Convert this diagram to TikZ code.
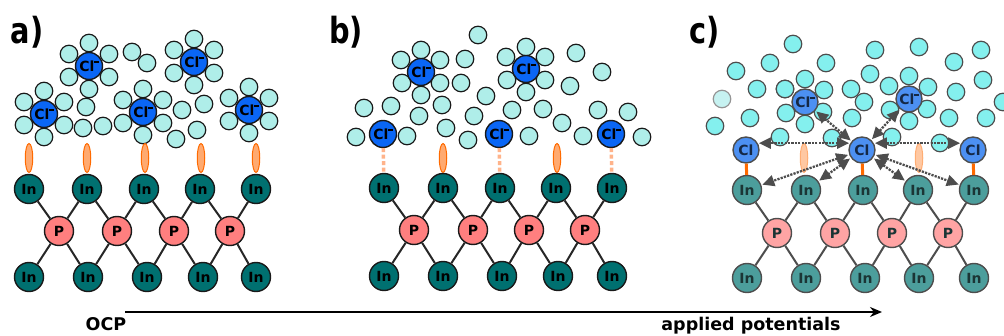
\documentclass[tikz,border=0pt]{standalone}
\usepackage{fontspec}
\setmainfont{DejaVu Sans}
\usetikzlibrary{shapes.geometric,arrows.meta}

\definecolor{inteal}{HTML}{007070}
\definecolor{psalmon}{HTML}{FF7F7F}
\definecolor{clblue}{HTML}{0A66F5}
\definecolor{wcyan}{HTML}{AFEEE9}
\definecolor{lpline}{HTML}{FF6A00}
\definecolor{lpfill}{HTML}{FFAA70}
\definecolor{hbondcol}{HTML}{FFB38A}
\definecolor{inpale}{HTML}{4C9E9C}
\definecolor{ppale}{HTML}{FFA4A4}
\definecolor{clpale}{HTML}{4C90F2}
\definecolor{wbright}{HTML}{84F0EE}
\definecolor{wfaint}{HTML}{C6F2F1}
\definecolor{greyline}{HTML}{4D4D4D}
\definecolor{txtpale}{HTML}{1B3535}
\definecolor{cltxtpale}{HTML}{142845}

\newcommand{\atomfont}{\bfseries\fontsize{14}{14}\selectfont}
\newcommand{\clminus}{Cl\rule[0.57em]{0.3em}{0.14em}}
\newcommand{\panelfont}{\bfseries\fontsize{36}{36}\selectfont}

\begin{document}
\begin{tikzpicture}[x=1pt,y=-1pt,
  atom/.style={circle, draw=black!90, line width=1.4pt, inner sep=0pt,
    minimum size=29pt, font=\atomfont},
  inatom/.style={atom, fill=inteal},
  patom/.style={atom, fill=psalmon},
  clion/.style={atom, minimum size=27pt, fill=clblue},
  water/.style={circle, draw=black!90, line width=1.2pt, fill=wcyan,
    minimum size=17.5pt, inner sep=0pt},
  inpaleatom/.style={atom, draw=greyline, fill=inpale, text=txtpale},
  ppaleatom/.style={atom, draw=greyline, fill=ppale, text=txtpale},
  clpaleatom/.style={atom, draw=greyline, minimum size=26pt, fill=clpale, text=cltxtpale},
  wpale/.style={water, draw=greyline, fill=wbright},
  bond/.style={line width=2pt, black!85},
  palebond/.style={line width=2pt, greyline},
  lone/.style={ellipse, draw=lpline, fill=lpfill, line width=1pt,
    minimum width=7.5pt, minimum height=29pt, inner sep=0pt},
  palelone/.style={lone, draw=lpline!55, fill=lpfill!65},
  hbond/.style={line width=3.5pt, hbondcol, dash pattern=on 4pt off 2.5pt},
  clbond/.style={line width=3pt, lpline},
  interact/.style={{Triangle[length=12pt,width=11pt]}-{Triangle[length=12pt,width=11pt]},
    line width=2.3pt, greyline, dash pattern=on 2.2pt off 1.2pt,
    shorten <=1pt, shorten >=1pt},
  panellabel/.style={font=\panelfont, inner sep=0pt},
  axislabel/.style={font=\bfseries\fontsize{17.5}{17.5}\selectfont, inner sep=0pt, anchor=base}
]
\useasboundingbox (0,0) rectangle (1004,336);

% ---------------- panel a: open circuit ----------------
\node[panellabel] (la) at (27,32) {\scalebox{0.8}[1]{a)}};
\foreach \x/\y [count=\i] in {132/52,147/63,86/107,83/128,103/126,182/110,204/104,197/130,176/139}
  \node[water] (wa\i) at (\x,\y) {};
\foreach \x/\y [count=\i] in {89/66,194/62,44/114,143/112,249/110} {
  \foreach \dx/\dy [count=\j] in {0/-23,-20/-12,20/-12,-20/11,20/11,0/23}
    \node[water] (ha\i-\j) at (\x+\dx,\y+\dy) {};
  \node[clion] (cla\i) at (\x,\y) {\clminus};
}
\foreach \x [count=\i] in {29,87,145,201,256}
  \node[lone] (lpa\i) at (\x,158) {};
\foreach \x [count=\i] in {29,87,144,200,256}
  \node[inatom] (ta\i) at (\x,189) {In};
\foreach \x [count=\i] in {59,117,174,230}
  \node[patom] (pa\i) at (\x,231) {P};
\foreach \x [count=\i] in {29,88,147,203,256}
  \node[inatom] (ba\i) at (\x,277) {In};
\foreach \i [evaluate=\i as \j using int(\i+1)] in {1,...,4}
  \draw[bond] (ta\i) -- (pa\i) (pa\i) -- (ta\j) (pa\i) -- (ba\i) (pa\i) -- (ba\j);

% ---------------- panel b: chloride approaching the surface ----------------
\node[panellabel] (lb) at (346,32) {\scalebox{0.8}[1]{b)}};
\foreach \x/\y [count=\i] in {478/35,465/59,461/83,364/108,391/106,419/116,442/105,446/128,
    356/137,407/136,486/96,474/116,468/140,512/110,543/109,529/136,576/53,570/86,602/72,
    562/123,598/110,628/112,583/136,642/137}
  \node[water] (wb\i) at (\x,\y) {};
\foreach \x/\y [count=\i] in {421/72,526/69} {
  \foreach \dx/\dy [count=\j] in {0/-22,-20/-12,19/-12,-19/11,19/11,0/23}
    \node[water] (hb\i-\j) at (\x+\dx,\y+\dy) {};
  \node[clion] (clb\i) at (\x,\y) {\clminus};
}
\foreach \x [count=\i] in {383,499,611}
  \node[clion] (csb\i) at (\x,134) {\clminus};
\foreach \x [count=\i] in {443,557}
  \node[lone] (lpb\i) at (\x,158) {};
\foreach \x [count=\i] in {384,443,500,556,612}
  \node[inatom] (tb\i) at (\x,188) {In};
\foreach \x [count=\i] in {414,473,529,585}
  \node[patom] (pb\i) at (\x,230) {P};
\foreach \x [count=\i] in {384,443,502,558,612}
  \node[inatom] (bb\i) at (\x,276) {In};
\foreach \i [evaluate=\i as \j using int(\i+1)] in {1,...,4}
  \draw[bond] (tb\i) -- (pb\i) (pb\i) -- (tb\j) (pb\i) -- (bb\i) (pb\i) -- (bb\j);
\draw[hbond] (csb1) -- (tb1);
\draw[hbond] (csb2) -- (tb3);
\draw[hbond] (csb3) -- (tb5);

% ---------------- panel c: adsorbed chlorine ----------------
\node[panellabel] (lc) at (705,32) {\scalebox{0.8}[1]{c)}};
\foreach \x/\y [count=\i] in {793/44,875/50,919/47,981/50,736/71,770/63,826/63,954/62,
    870/74,983/80,757/89,785/89,851/89,956/92,864/102,852/118,949/118,986/118,1003/102,
    715/126,750/118,780/137,832/138,892/137,940/143}
  \node[wpale] (wc\i) at (\x,\y) {};
\node[water, draw=greyline!60, fill=wfaint] (wcf) at (722,99) {};
\foreach \x/\y [count=\i] in {805/102,909/99} {
  \foreach \dx/\dy [count=\j] in {0/-23,-20/-13,19/-12,-19/11,18/10,0/22}
    \node[wpale] (hc\i-\j) at (\x+\dx,\y+\dy) {};
  \node[clpaleatom] (cmc\i) at (\x,\y) {\clminus};
}
\node[clpaleatom] (clL) at (746,150) {Cl};
\node[clpaleatom] (clM) at (862,150) {Cl};
\node[clpaleatom] (clR) at (973,150) {Cl};
\foreach \x [count=\i] in {804,919}
  \node[palelone] (lpc\i) at (\x,158) {};
\foreach \x [count=\i] in {747,806,863,918,974}
  \node[inpaleatom] (tc\i) at (\x,190) {In};
\foreach \x [count=\i] in {777,835,892,948}
  \node[ppaleatom] (pc\i) at (\x,233) {P};
\foreach \x [count=\i] in {747,806,865,919,974}
  \node[inpaleatom] (bc\i) at (\x,278) {In};
\foreach \i [evaluate=\i as \j using int(\i+1)] in {1,...,4}
  \draw[palebond] (tc\i) -- (pc\i) (pc\i) -- (tc\j) (pc\i) -- (bc\i) (pc\i) -- (bc\j);
\draw[clbond] (clL) -- (tc1);
\draw[clbond] (clM) -- (tc3);
\draw[clbond] (clR) -- (tc5);
% interactions of the central chlorine with its neighbours
\draw[interact] (clM.150) -- (clL.30);
\draw[interact] (clM.30) -- (clR.150);
\draw[interact] (clM) -- (cmc1);
\draw[interact] (clM) -- (cmc2);
\draw[interact] (clM) -- (tc1);
\draw[interact] (clM) -- (tc2);
\draw[interact] (clM) -- (tc4);
\draw[interact] (clM) -- (tc5);

% ---------------- potential axis ----------------
\coordinate (axs) at (125,312);
\coordinate (axe) at (882,312);
\draw[line width=1.8pt, -{Stealth[length=12pt,width=10pt]}] (axs) -- (axe);
\node[axislabel] (ocp) at (106,331) {OCP};
\node[axislabel] (appl) at (751,331) {applied potentials};
\end{tikzpicture}
\end{document}
